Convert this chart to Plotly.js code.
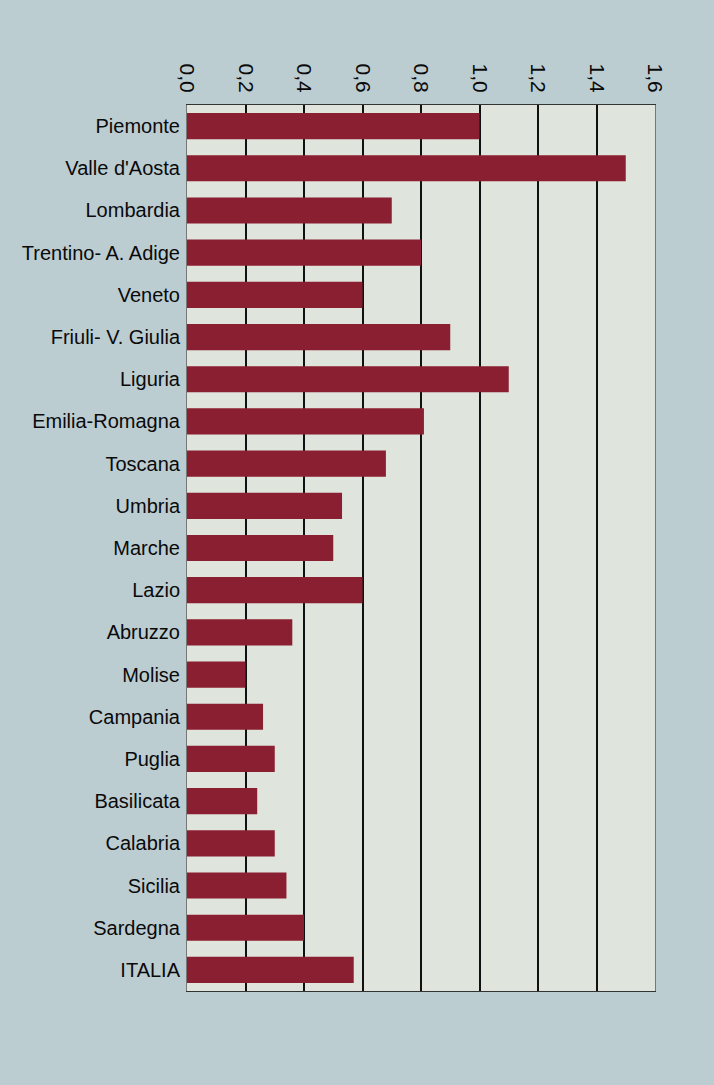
<!DOCTYPE html>
<html>
<head>
<meta charset="utf-8">
<script src="https://cdn.plot.ly/plotly-3.0.1.min.js"></script>
<style>
html,body{margin:0;padding:0;background:#bccdd2;}
#chart{width:714px;height:1085px;}
</style>
</head>
<body>
<div id="chart"></div>
<script>
const regions = ["Piemonte","Valle d'Aosta","Lombardia","Trentino- A. Adige","Veneto","Friuli- V. Giulia","Liguria","Emilia-Romagna","Toscana","Umbria","Marche","Lazio","Abruzzo","Molise","Campania","Puglia","Basilicata","Calabria","Sicilia","Sardegna","ITALIA"];
const values = [1.0,1.5,0.7,0.8,0.6,0.9,1.1,0.81,0.68,0.53,0.5,0.6,0.36,0.2,0.26,0.3,0.24,0.3,0.34,0.4,0.57];
const tickVals = [0,0.2,0.4,0.6,0.8,1.0,1.2,1.4,1.6];
const tickText = ["0,0","0,2","0,4","0,6","0,8","1,0","1,2","1,4","1,6"];

const trace = {
  type: 'bar',
  orientation: 'h',
  x: values,
  y: regions,
  marker: {color: '#8a1f31', line: {width: 0}},
  hoverinfo: 'x+y'
};

const layout = {
  width: 714,
  height: 1085,
  paper_bgcolor: '#bccdd2',
  plot_bgcolor: '#dfe4dc',
  margin: {l: 187, r: 59, t: 105, b: 94},
  bargap: 0.38,
  showlegend: false,
  font: {family: 'Liberation Sans, Arial, sans-serif', color: '#0a0a0a', size: 21},
  xaxis: {
    side: 'top',
    range: [0, 1.6],
    tickvals: tickVals,
    ticktext: tickText,
    tickangle: 90,
    showgrid: true,
    gridcolor: '#111111',
    gridwidth: 2,
    zeroline: false,
    showline: true,
    linecolor: '#333333',
    linewidth: 1,
    mirror: true,
    ticks: '',
    ticklabelstandoff: 4,
    tickfont: {size: 21, color: '#0a0a0a'}
  },
  yaxis: {
    type: 'category',
    autorange: 'reversed',
    showgrid: false,
    zeroline: false,
    showline: true,
    linecolor: '#777777',
    linewidth: 1,
    mirror: true,
    ticks: '',
    ticklabelstandoff: 2,
    tickfont: {size: 20, color: '#0a0a0a'}
  }
};

Plotly.newPlot('chart', [trace], layout, {displayModeBar: false, staticPlot: true});
</script>
</body>
</html>
